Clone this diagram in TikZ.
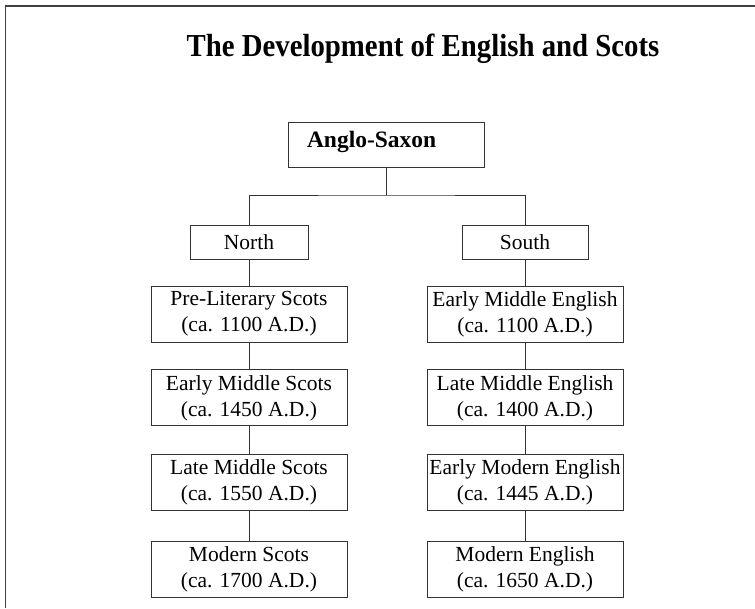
\documentclass[tikz,border=0pt]{standalone}
\usepackage{fontspec}
\setmainfont{Liberation Serif}
\usetikzlibrary{positioning}

\begin{document}
\begin{tikzpicture}[x=1pt,y=-1pt,
    stage/.style={draw=black!80, line width=0.9pt, minimum width=196pt,
        minimum height=56pt, inner sep=0pt, align=center,
        font=\fontsize{21.5}{26}\selectfont},
    branch/.style={draw=black!80, line width=0.9pt, minimum height=34pt,
        inner sep=0pt, font=\fontsize{21.5}{26}\selectfont},
    link/.style={black!80, line width=0.9pt}]

    \useasboundingbox (0,0) rectangle (755,608);
    % frame, cut at right and bottom
    \draw[black!75, line width=1.6pt] (5.5,608) -- (5.5,6) -- (755,6);

    \node[anchor=base, font=\bfseries\fontsize{32}{36}\selectfont] (title) at (423,56.7)
        {\scalebox{0.9}[1]{The Development of English and Scots}};

    \node[draw=black!80, line width=0.9pt, minimum height=45pt, inner ysep=0pt,
        inner xsep=19pt, text width=158pt, align=left, text height=25pt,
        text depth=20pt, font=\bfseries\fontsize{23.5}{26}\selectfont]
        (anglo) at (386,144.5) {Anglo-Saxon};

    \node[branch, minimum width=118pt] (north) at (249,242) {North};
    \node[branch, minimum width=126pt] (south) at (525,242) {South};

    % Scots
    \node[stage] (s1) at (249,314) {Pre-Literary Scots\\(ca. 1100 A.D.)};
    \node[stage, below=27pt of s1] (s2) {Early Middle Scots\\(ca. 1450 A.D.)};
    \node[stage, below=28pt of s2] (s3) {Late Middle Scots\\(ca. 1550 A.D.)};
    \node[stage, below=30pt of s3] (s4) {Modern Scots\\(ca. 1700 A.D.)};

    % English
    \node[stage] (e1) at (525,314) {Early Middle English\\(ca. 1100 A.D.)};
    \node[stage, below=27pt of e1] (e2) {Late Middle English\\(ca. 1400 A.D.)};
    \node[stage, below=28pt of e2] (e3) {Early Modern English\\(ca. 1445 A.D.)};
    \node[stage, below=30pt of e3] (e4) {Modern English\\(ca. 1650 A.D.)};

    \coordinate (fork) at (386,195);
    \draw[link] (anglo.south) -- (fork);
    \draw[link] (north.north) |- (fork) -| (south.north);

    \foreach \a/\b in {north/s1,s1/s2,s2/s3,s3/s4,south/e1,e1/e2,e2/e3,e3/e4}
        \draw[link] (\a.south) -- (\b.north);

\end{tikzpicture}
\end{document}
